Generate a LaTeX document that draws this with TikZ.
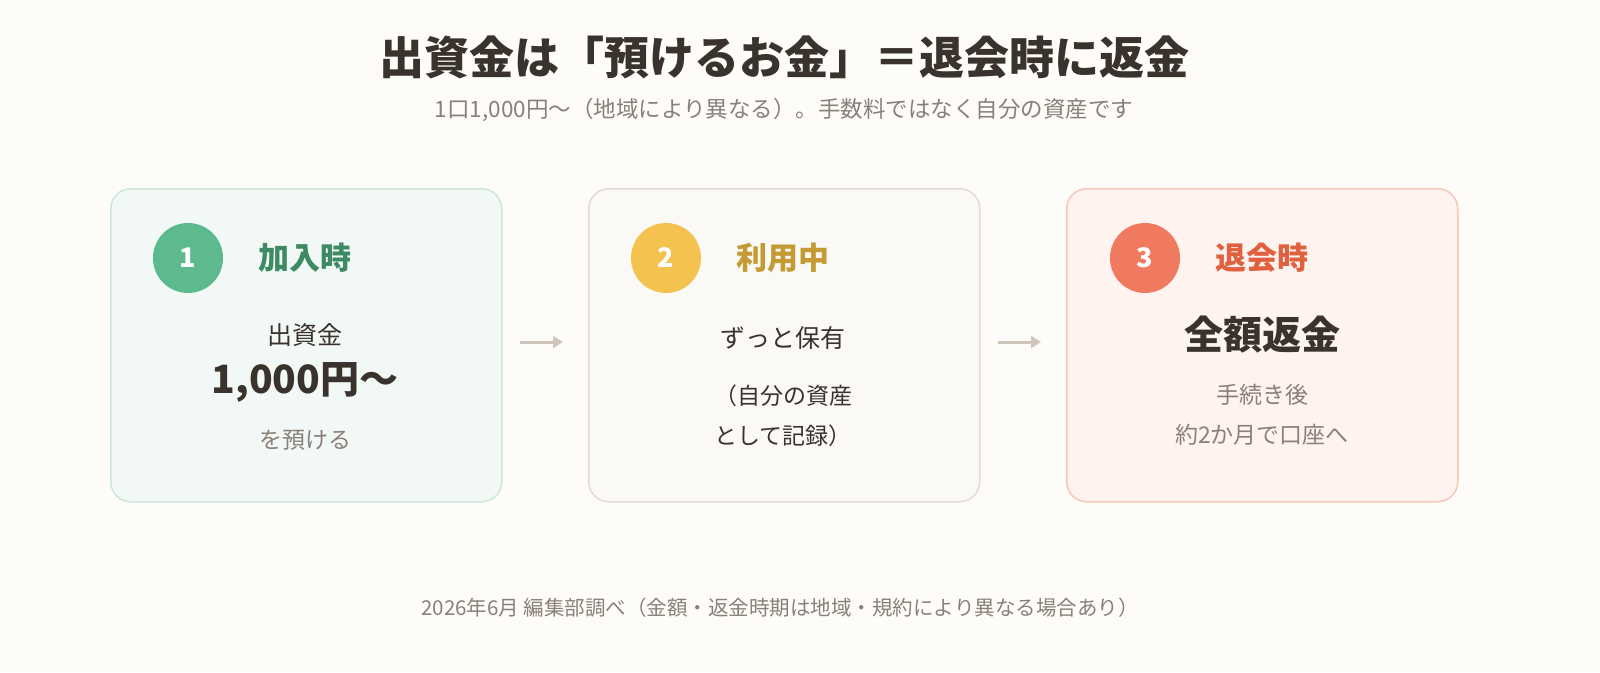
\documentclass[tikz,border=0pt]{standalone}
\usepackage{fontspec}
\setmainfont{Noto Sans CJK JP}
\usetikzlibrary{arrows.meta}
\definecolor{bg}{HTML}{FDFCF8}
\definecolor{dark}{HTML}{3A332D}
\definecolor{gry}{HTML}{8A8079}
\definecolor{fA}{HTML}{F1F8F5}\definecolor{dA}{HTML}{CDE6DA}\definecolor{cA}{HTML}{5DB98E}\definecolor{lA}{HTML}{3D8A63}
\definecolor{fB}{HTML}{FAF9F6}\definecolor{dB}{HTML}{E0DCD6}\definecolor{cB}{HTML}{F3C24F}\definecolor{lB}{HTML}{C49A32}
\definecolor{fC}{HTML}{FEF3EF}\definecolor{dC}{HTML}{F5C8BA}\definecolor{cC}{HTML}{EF7A5F}\definecolor{lC}{HTML}{E0603F}
\definecolor{arr}{HTML}{CFC6BC}
\tikzset{
 card/.style={draw=#1,line width=1.5pt,rounded corners=20pt,minimum width=391pt,minimum height=313pt,anchor=north west},
 num/.style={circle,fill=#1,minimum size=70pt,text=white,font=\fontsize{27}{27}\selectfont\bfseries},
 lab/.style={text=#1,font=\fontsize{31}{31}\selectfont\bfseries},
 body/.style={text=dark,font=\fontsize{25}{25}\selectfont},
 big/.style={text=dark,font=\fontsize{39}{39}\selectfont\bfseries},
 small/.style={text=gry,font=\fontsize{23}{40}\selectfont,align=center},
 flow/.style={arr,line width=3pt,-{Triangle[length=10pt,width=12pt]}}
}
\begin{document}
\begin{tikzpicture}[x=1pt,y=-1pt]
\fill[bg] (0,0) rectangle (1600,672);
\useasboundingbox (0,0) rectangle (1600,672);
\node[text=dark,font=\fontsize{45}{45}\selectfont\bfseries] (title) at (784,57) {出資金は「預けるお金」＝退会時に返金};
\node[text=gry,font=\fontsize{22.5}{22.5}\selectfont] (sub) at (784,110) {1口1,000円〜（地域により異なる）。手数料ではなく自分の資産です};
\node[card=dA,fill=fA] (b1) at (110,188) {};
\node[card=dB,fill=fB] (b2) at (588,188) {};
\node[card=dC,fill=fC] (b3) at (1066,188) {};
\node[num=cA] (n1) at (188,258) {1};
\node[lab=lA] (l1) at (305,258) {加入時};
\node[num=cB] (n2) at (666,258) {2};
\node[lab=lB] (l2) at (783,258) {利用中};
\node[num=cC] (n3) at (1145,258) {3};
\node[lab=lC] (l3) at (1262,258) {退会時};
\node[body] (t1a) at (305,335) {出資金};
\node[big] (t1b) at (305,382) {1,000円〜};
\node[small] (t1c) at (305,440) {を預ける};
\node[body] (t2a) at (783,338) {ずっと保有};
\node[body,align=center,font=\fontsize{23}{40}\selectfont] (t2b) at (783,416) {（自分の資産\\として記録）};
\node[big] (t3a) at (1262,335) {全額返金};
\node[small] (t3b) at (1262,415) {手続き後\\約2か月で口座へ};
\coordinate (a1s) at (520,342); \coordinate (a1e) at (563,342);
\coordinate (a2s) at (998,342); \coordinate (a2e) at (1041,342);
\draw[flow] (a1s) -- (a1e);
\draw[flow] (a2s) -- (a2e);
\node[text=gry,font=\fontsize{20.5}{20.5}\selectfont] (foot) at (780,608) {2026年6月 編集部調べ（金額・返金時期は地域・規約により異なる場合あり）};
\end{tikzpicture}
\end{document}
